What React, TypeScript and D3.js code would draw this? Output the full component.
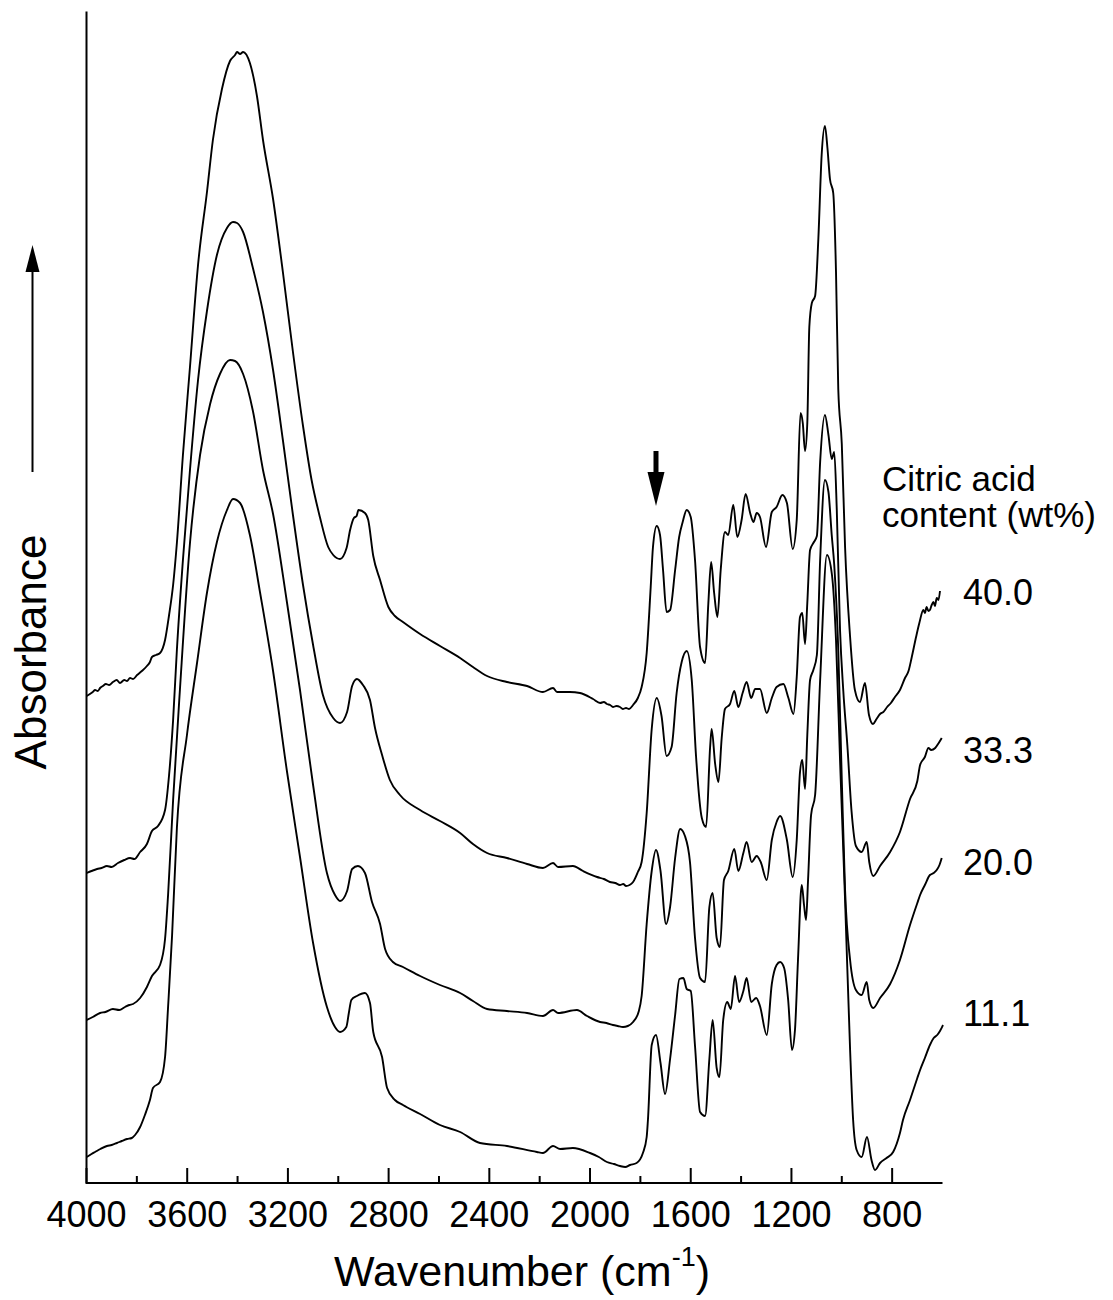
import React from "react";
import * as d3 from "d3";

// ---- data: [wavenumber (cm-1), absorbance (a.u., vertically offset)] ----
const s40: [number, number][] = [
  [3999,4.87],[3975,4.91],[3966,4.93],[3955,4.92],[3946,4.95],[3935,4.97],[3923,4.99],[3910,4.98],[3895,5.01],[3880,5.03],[3867,5.00],[3850,5.03],[3839,5.02],[3827,5.05],[3815,5.04],[3799,5.08],[3780,5.12],[3760,5.17],[3748,5.21],[3740,5.26],[3724,5.28],[3708,5.30],
  [3688,5.43],[3672,5.68],[3656,5.98],[3641,6.40],[3617,7.28],[3589,8.16],[3557,9.18],[3521,9.92],[3498,10.43],[3462,10.94],[3430,11.22],[3410,11.28],[3402,11.31],[3390,11.29],[3378,11.31],[3351,11.20],[3323,10.87],[3299,10.43],[3259,9.84],[3220,9.11],[3180,8.31],[3140,7.57],[3106,7.03],[3073,6.66],[3040,6.36],[3020,6.28],[2993,6.24],[2967,6.35],[2953,6.53],[2938,6.65],[2927,6.67],[2920,6.73],[2894,6.70],[2881,6.63],[2861,6.27],[2834,6.03],[2801,5.76],[2775,5.67],[2743,5.61],[2675,5.49],[2596,5.37],[2516,5.25],[2465,5.16],[2409,5.07],[2330,5.01],[2250,4.97],[2187,4.91],[2147,4.95],[2131,4.91],[2080,4.91],[2040,4.90],[1988,4.84],[1960,4.80],[1945,4.81],[1933,4.79],[1920,4.78],[1909,4.76],[1895,4.77],[1881,4.76],[1870,4.74],[1857,4.75],[1845,4.74],[1829,4.78],[1810,4.85],[1795,4.96],[1775,5.30],[1759,5.96],[1750,6.36],[1735,6.57],[1722,6.48],[1710,6.13],[1696,5.71],[1682,5.73],[1662,6.13],[1646,6.46],[1632,6.61],[1616,6.73],[1600,6.66],[1583,6.23],[1563,5.36],[1543,5.20],[1530,5.80],[1519,6.21],[1507,5.90],[1494,5.66],[1481,6.13],[1464,6.51],[1451,6.48],[1431,6.78],[1415,6.46],[1398,6.63],[1382,6.89],[1364,6.70],[1351,6.61],[1338,6.70],[1325,6.66],[1301,6.36],[1278,6.71],[1259,6.76],[1236,6.88],[1218,6.80],[1195,6.34],[1179,6.63],[1164,7.70],[1155,7.60],[1146,7.32],[1137,7.60],[1129,8.56],[1119,8.80],[1106,8.87],[1093,9.45],[1080,10.28],[1067,10.57],[1057,10.35],[1047,10.04],[1034,9.90],[1023,9.11],[1014,7.94],[1000,7.39],[987,6.36],[967,5.46],[948,4.93],[928,4.81],[908,5.00],[892,4.68],[876,4.59],[862,4.64],[848,4.69],[835,4.71],[820,4.76],[805,4.80],[789,4.86],[769,4.93],[749,5.05],[735,5.12],[722,5.26],[705,5.46],[692,5.60],[676,5.73],[670,5.70],[663,5.76],[656,5.72],[650,5.73],[643,5.78],[636,5.81],[630,5.77],[623,5.85],[616,5.83],[610,5.92]
];
const s333: [number, number][] = [
  [3999,3.10],[3980,3.12],[3958,3.14],[3940,3.15],[3919,3.17],[3900,3.16],[3875,3.20],[3850,3.23],[3827,3.25],[3810,3.24],[3787,3.31],[3760,3.39],[3740,3.52],[3716,3.57],[3688,3.73],[3672,4.08],[3656,4.63],[3641,5.33],[3617,6.23],[3589,7.13],[3557,8.03],[3521,8.73],[3482,9.28],[3442,9.55],[3418,9.61],[3402,9.60],[3378,9.51],[3339,9.15],[3299,8.71],[3259,8.13],[3220,7.43],[3180,6.68],[3140,5.98],[3100,5.38],[3061,4.88],[3020,4.65],[2993,4.60],[2965,4.71],[2945,4.97],[2926,5.04],[2902,4.98],[2874,4.83],[2854,4.55],[2826,4.28],[2795,4.03],[2755,3.88],[2675,3.73],[2596,3.62],[2516,3.50],[2465,3.39],[2409,3.30],[2330,3.25],[2250,3.19],[2187,3.15],[2147,3.20],[2127,3.16],[2068,3.17],[2028,3.12],[1972,3.06],[1945,3.04],[1921,3.01],[1900,3.00],[1881,2.98],[1868,2.99],[1857,2.97],[1843,2.98],[1829,3.01],[1810,3.11],[1795,3.21],[1775,3.70],[1755,4.54],[1735,4.85],[1716,4.67],[1696,4.27],[1676,4.36],[1656,4.90],[1636,5.21],[1616,5.32],[1596,5.03],[1579,4.27],[1556,3.65],[1539,3.56],[1523,4.36],[1517,4.54],[1503,4.19],[1490,4.01],[1477,4.45],[1464,4.74],[1444,4.79],[1427,4.92],[1411,4.76],[1394,4.90],[1378,5.01],[1360,4.85],[1344,4.94],[1325,4.94],[1298,4.70],[1278,4.85],[1259,4.96],[1232,4.99],[1212,4.85],[1192,4.69],[1179,5.06],[1166,5.66],[1157,5.70],[1146,5.39],[1137,5.80],[1126,6.33],[1113,6.40],[1099,6.47],[1086,7.21],[1067,7.68],[1053,7.48],[1040,7.24],[1030,7.31],[1020,6.74],[1007,5.53],[994,4.92],[978,4.38],[961,3.71],[944,3.37],[921,3.31],[901,3.41],[891,3.21],[875,3.07],[848,3.17],[808,3.31],[769,3.51],[729,3.84],[700,4.02],[689,4.18],[670,4.26],[656,4.35],[645,4.33],[629,4.35],[615,4.40],[603,4.45]
];
const s200: [number, number][] = [
  [3999,1.63],[3975,1.66],[3946,1.70],[3925,1.71],[3895,1.74],[3870,1.73],[3847,1.76],[3830,1.78],[3815,1.79],[3787,1.85],[3760,1.96],[3740,2.07],[3708,2.18],[3688,2.44],[3676,2.88],[3656,3.83],[3629,4.93],[3589,6.40],[3549,7.28],[3509,7.79],[3470,8.09],[3430,8.23],[3410,8.22],[3378,8.09],[3339,7.72],[3299,7.13],[3259,6.69],[3204,5.81],[3152,4.93],[3100,3.98],[3045,3.10],[3013,2.88],[2993,2.82],[2965,2.92],[2945,3.14],[2922,3.17],[2894,3.10],[2866,2.81],[2834,2.59],[2814,2.34],[2783,2.21],[2743,2.16],[2675,2.07],[2596,1.98],[2516,1.90],[2465,1.82],[2409,1.74],[2330,1.72],[2250,1.70],[2187,1.67],[2147,1.73],[2127,1.70],[2052,1.73],[2012,1.67],[1960,1.61],[1935,1.60],[1909,1.58],[1890,1.57],[1869,1.56],[1850,1.57],[1829,1.61],[1806,1.72],[1795,1.87],[1775,2.59],[1755,3.12],[1738,3.33],[1720,3.12],[1698,2.59],[1682,2.76],[1662,3.25],[1642,3.54],[1623,3.47],[1603,3.21],[1583,2.45],[1563,2.05],[1543,2.01],[1526,2.76],[1513,2.90],[1497,2.45],[1484,2.36],[1468,3.03],[1451,3.12],[1427,3.34],[1411,3.12],[1391,3.30],[1378,3.41],[1358,3.21],[1338,3.27],[1322,3.21],[1298,3.03],[1278,3.43],[1259,3.61],[1245,3.67],[1218,3.43],[1195,3.06],[1179,3.43],[1166,4.11],[1157,4.23],[1146,3.94],[1137,4.48],[1126,5.03],[1113,5.13],[1099,5.28],[1086,6.23],[1067,7.03],[1053,6.91],[1040,6.48],[1030,6.18],[1014,5.33],[1000,4.03],[987,2.93],[967,2.23],[944,1.93],[921,1.88],[901,2.01],[891,1.83],[875,1.75],[848,1.85],[808,1.99],[769,2.23],[729,2.58],[700,2.80],[689,2.88],[670,2.98],[650,3.08],[635,3.10],[623,3.13],[612,3.18],[603,3.25]
];
const s111: [number, number][] = [
  [3999,0.26],[3980,0.29],[3966,0.31],[3945,0.34],[3919,0.37],[3900,0.38],[3879,0.40],[3860,0.42],[3839,0.44],[3820,0.45],[3807,0.48],[3787,0.56],[3768,0.68],[3748,0.83],[3736,0.95],[3708,1.01],[3688,1.26],[3676,1.76],[3660,2.48],[3641,3.55],[3601,4.48],[3561,5.20],[3521,5.91],[3482,6.41],[3442,6.73],[3418,6.84],[3390,6.80],[3351,6.48],[3311,5.91],[3259,5.12],[3204,4.12],[3152,3.26],[3100,2.40],[3045,1.76],[3013,1.56],[2993,1.51],[2968,1.56],[2958,1.70],[2948,1.83],[2926,1.87],[2894,1.90],[2874,1.80],[2861,1.51],[2826,1.26],[2806,0.95],[2775,0.83],[2743,0.78],[2675,0.69],[2596,0.58],[2516,0.51],[2437,0.40],[2330,0.37],[2211,0.31],[2187,0.30],[2147,0.37],[2119,0.34],[2068,0.35],[2000,0.30],[1965,0.26],[1933,0.21],[1905,0.19],[1881,0.17],[1860,0.16],[1841,0.18],[1815,0.20],[1790,0.30],[1775,0.46],[1770,0.63],[1755,1.38],[1738,1.48],[1720,1.20],[1702,0.89],[1682,1.24],[1662,1.68],[1645,2.04],[1629,2.05],[1616,1.94],[1600,1.92],[1583,1.37],[1563,0.71],[1543,0.67],[1526,1.24],[1513,1.63],[1497,1.15],[1486,1.06],[1471,1.63],[1455,1.81],[1441,1.74],[1424,2.07],[1408,1.81],[1391,1.92],[1378,2.05],[1360,1.81],[1340,1.85],[1325,1.77],[1298,1.48],[1278,1.99],[1259,2.18],[1245,2.21],[1229,2.15],[1213,1.83],[1198,1.33],[1186,1.53],[1174,2.23],[1159,2.98],[1150,2.78],[1142,2.63],[1134,3.03],[1122,3.68],[1106,3.88],[1086,5.03],[1059,6.28],[1039,6.08],[1023,5.43],[1007,4.23],[987,2.83],[967,1.33],[955,0.63],[941,0.33],[921,0.26],[900,0.46],[882,0.23],[868,0.13],[848,0.20],[822,0.25],[796,0.31],[769,0.50],[757,0.63],[729,0.83],[700,1.05],[689,1.13],[670,1.25],[650,1.38],[635,1.45],[621,1.48],[610,1.52],[598,1.58]
];

const spectra = [s40, s333, s200, s111];
const seriesLabels = ["40.0", "33.3", "20.0", "11.1"];
const labelLevels = [5.91, 4.33, 3.21, 1.70]; // absorbance level of each label (centre)
const majorTicks = [4000, 3600, 3200, 2800, 2400, 2000, 1600, 1200, 800];
const minorTicks = [3800, 3400, 3000, 2600, 2200, 1800, 1400, 1000];

const W = 1113;
const H = 1300;
const FONT = "'Liberation Sans', Arial, Helvetica, sans-serif";

export default function App() {
  const x = d3.scaleLinear().domain([4000, 600]).range([86.5, 942.5]);
  const y = d3.scaleLinear().domain([0, 11.72]).range([1183, 11]);
  const line = d3
    .line<[number, number]>()
    .x((d) => x(d[0]))
    .y((d) => y(d[1]))
    .curve(d3.curveMonotoneX);

  const axisY = y(0);
  const markX = x(1738);

  return (
    <svg
      width={W}
      height={H}
      viewBox={`0 0 ${W} ${H}`}
      style={{ position: "absolute", left: 0, top: 0, background: "#fff" }}
      fontFamily={FONT}
    >
      <rect x={0} y={0} width={W} height={H} fill="#fff" />
      {/* axes */}
      <line x1={x(4000)} x2={x(4000)} y1={11.5} y2={axisY + 1} stroke="#000" strokeWidth={2} />
      <line x1={x(4000)} x2={x(600)} y1={axisY} y2={axisY} stroke="#000" strokeWidth={2} />
      {majorTicks.map((t) => (
        <line key={"M" + t} x1={x(t)} x2={x(t)} y1={axisY} y2={axisY - 15} stroke="#000" strokeWidth={2} />
      ))}
      {minorTicks.map((t) => (
        <line key={"m" + t} x1={x(t)} x2={x(t)} y1={axisY} y2={axisY - 7} stroke="#000" strokeWidth={2} />
      ))}
      {majorTicks.map((t) => (
        <text key={"L" + t} x={x(t)} y={1227} fontSize={36} textAnchor="middle" fill="#000">
          {t}
        </text>
      ))}
      <text x={522} y={1286} fontSize={43} textAnchor="middle" fill="#000">
        Wavenumber (cm
        <tspan fontSize={27} dy={-20}>-1</tspan>
        <tspan fontSize={43} dy={20}>)</tspan>
      </text>

      {/* y label + arrow */}
      <text
        transform={`translate(46, 652) rotate(-90)`}
        fontSize={44}
        textAnchor="middle"
        fill="#000"
      >
        Absorbance
      </text>
      <line x1={32.5} x2={32.5} y1={472} y2={268} stroke="#000" strokeWidth={2} />
      <path d="M32.5,245 L25.5,272 L39.5,272 Z" fill="#000" />

      {/* spectra */}
      {spectra.map((s, i) => (
        <path key={i} d={line(s) || ""} fill="none" stroke="#000" strokeWidth={1.9} strokeLinejoin="round" />
      ))}

      {/* marker arrow at ~1740 cm-1 */}
      <rect x={markX - 2.5} y={451} width={5} height={23} fill="#000" />
      <path d={`M${markX - 8.5},472 L${markX + 8.5},472 L${markX},506 Z`} fill="#000" />

      {/* legend title */}
      <text x={882} y={491} fontSize={35} fill="#000">Citric acid</text>
      <text x={882} y={527} fontSize={35} fill="#000">content (wt%)</text>
      {seriesLabels.map((l, i) => (
        <text key={l} x={963} y={y(labelLevels[i]) + 13} fontSize={36} fill="#000">
          {l}
        </text>
      ))}
    </svg>
  );
}
